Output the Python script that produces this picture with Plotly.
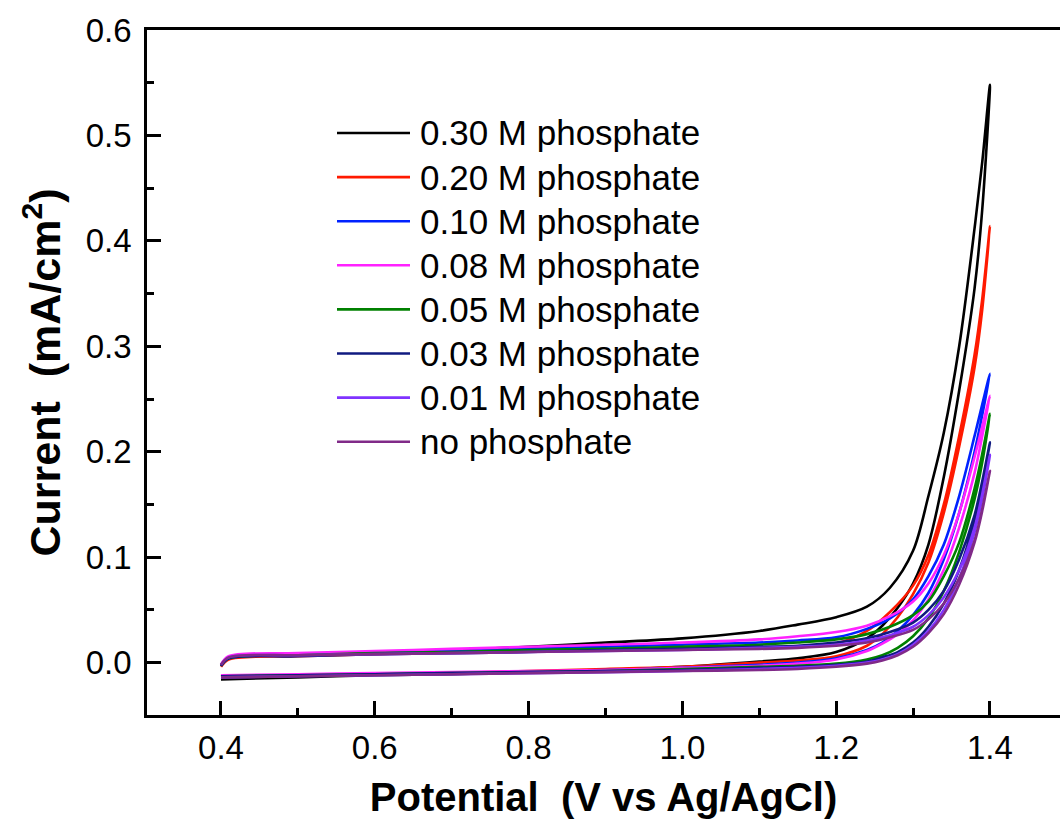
import plotly.graph_objects as go

# Potential grids (V vs Ag/AgCl)
forward_potential = [0.40, 0.41, 0.50, 0.60, 0.70, 0.80, 0.90, 1.00, 1.10, 1.15, 1.20, 1.24, 1.27, 1.30, 1.32, 1.34, 1.36, 1.38, 1.39, 1.40]
reverse_potential = [1.40, 1.39, 1.38, 1.36, 1.34, 1.32, 1.30, 1.28, 1.26, 1.24, 1.20, 1.15, 1.10, 1.00, 0.90, 0.80, 0.70, 0.60, 0.50, 0.40]

series_names = ["0.30 M phosphate", "0.20 M phosphate", "0.10 M phosphate", "0.08 M phosphate",
                "0.05 M phosphate", "0.03 M phosphate", "0.01 M phosphate", "no phosphate"]
series_colors = ["#000000", "#FF1A00", "#0022FF", "#FF22FF", "#008000", "#101A80", "#8033FF", "#802A88"]

# Current (mA/cm2), forward scan
fwd_030 = [-0.003, 0.005, 0.008, 0.010, 0.012, 0.015, 0.019, 0.023, 0.030, 0.036, 0.043, 0.053, 0.071, 0.106, 0.158, 0.218, 0.300, 0.412, 0.475, 0.548]
fwd_020 = [-0.004, 0.003, 0.006, 0.008, 0.010, 0.011, 0.012, 0.013, 0.014, 0.015, 0.018, 0.030, 0.048, 0.073, 0.102, 0.150, 0.215, 0.292, 0.345, 0.414]
fwd_010 = [-0.003, 0.004, 0.007, 0.009, 0.011, 0.013, 0.015, 0.017, 0.019, 0.021, 0.024, 0.032, 0.042, 0.060, 0.082, 0.112, 0.158, 0.215, 0.245, 0.274]
fwd_008 = [-0.002, 0.006, 0.009, 0.011, 0.013, 0.015, 0.017, 0.019, 0.022, 0.025, 0.029, 0.035, 0.044, 0.058, 0.075, 0.102, 0.142, 0.195, 0.224, 0.253]
fwd_005 = [-0.003, 0.004, 0.007, 0.009, 0.010, 0.012, 0.013, 0.015, 0.017, 0.019, 0.022, 0.027, 0.034, 0.045, 0.058, 0.082, 0.114, 0.165, 0.198, 0.236]
fwd_003 = [-0.003, 0.004, 0.006, 0.008, 0.009, 0.010, 0.012, 0.013, 0.015, 0.016, 0.019, 0.023, 0.029, 0.038, 0.050, 0.068, 0.098, 0.140, 0.172, 0.209]
fwd_001 = [-0.002, 0.005, 0.007, 0.008, 0.009, 0.010, 0.011, 0.012, 0.014, 0.015, 0.017, 0.021, 0.026, 0.034, 0.045, 0.062, 0.088, 0.128, 0.160, 0.197]
fwd_000 = [-0.002, 0.005, 0.007, 0.008, 0.009, 0.010, 0.011, 0.012, 0.013, 0.014, 0.016, 0.019, 0.024, 0.031, 0.041, 0.056, 0.080, 0.116, 0.146, 0.182]

# Current (mA/cm2), reverse scan
rev_030 = [0.548, 0.430, 0.355, 0.258, 0.176, 0.112, 0.075, 0.052, 0.035, 0.023, 0.010, 0.004, 0.001, -0.004, -0.007, -0.009, -0.011, -0.012, -0.014, -0.016]
rev_020 = [0.414, 0.335, 0.280, 0.205, 0.142, 0.095, 0.065, 0.043, 0.027, 0.016, 0.006, 0.002, 0.000, -0.004, -0.006, -0.008, -0.010, -0.011, -0.012, -0.013]
rev_010 = [0.274, 0.235, 0.200, 0.142, 0.098, 0.066, 0.045, 0.030, 0.019, 0.012, 0.004, 0.000, -0.002, -0.005, -0.007, -0.009, -0.010, -0.011, -0.012, -0.013]
rev_008 = [0.253, 0.215, 0.180, 0.128, 0.088, 0.060, 0.040, 0.027, 0.018, 0.011, 0.003, -0.001, -0.003, -0.005, -0.007, -0.008, -0.009, -0.010, -0.011, -0.012]
rev_005 = [0.236, 0.190, 0.155, 0.105, 0.068, 0.042, 0.025, 0.014, 0.007, 0.003, -0.001, -0.003, -0.004, -0.006, -0.008, -0.009, -0.010, -0.011, -0.012, -0.013]
rev_003 = [0.209, 0.168, 0.135, 0.088, 0.056, 0.034, 0.019, 0.010, 0.005, 0.001, -0.002, -0.004, -0.005, -0.007, -0.008, -0.009, -0.010, -0.011, -0.012, -0.013]
rev_001 = [0.197, 0.156, 0.124, 0.080, 0.050, 0.030, 0.017, 0.008, 0.003, 0.000, -0.003, -0.005, -0.006, -0.008, -0.009, -0.010, -0.011, -0.012, -0.013, -0.014]
rev_000 = [0.182, 0.144, 0.114, 0.074, 0.046, 0.028, 0.015, 0.007, 0.002, -0.001, -0.004, -0.006, -0.007, -0.008, -0.009, -0.010, -0.011, -0.012, -0.013, -0.014]

forward_currents = [fwd_030, fwd_020, fwd_010, fwd_008, fwd_005, fwd_003, fwd_001, fwd_000]
reverse_currents = [rev_030, rev_020, rev_010, rev_008, rev_005, rev_003, rev_001, rev_000]

x_tick_vals = [0.4, 0.6, 0.8, 1.0, 1.2, 1.4]
y_tick_vals = [0.0, 0.1, 0.2, 0.3, 0.4, 0.5, 0.6]

FONT = "Liberation Sans, Arial, sans-serif"

fig = go.Figure()
for name, color, fwd, rev in zip(series_names, series_colors, forward_currents, reverse_currents):
    fig.add_trace(go.Scatter(
        x=forward_potential + reverse_potential[1:],
        y=fwd + rev[1:],
        mode="lines", name=name,
        line=dict(color=color, width=2.6, shape="spline", smoothing=0.9),
        showlegend=False,
    ))

# Custom legend (long line samples like the original)
L, R_, T, B = 147, 1060, 30, 715
W, H = R_ - L, B - T
def px(xp): return (xp - L) / W
def py(yp): return (B - yp) / H
row0, step = 133, 44.1
for i, (name, color) in enumerate(zip(series_names, series_colors)):
    yy = row0 + i * step
    fig.add_shape(type="line", xref="paper", yref="paper",
                  x0=px(337), x1=px(410), y0=py(yy), y1=py(yy),
                  line=dict(color=color, width=2.6))
    fig.add_annotation(xref="paper", yref="paper", x=px(418), y=py(yy),
                       text=name, showarrow=False, xanchor="left", yanchor="middle",
                       font=dict(family=FONT, size=35, color="black"))

fig.update_layout(
    width=1060, height=821,
    margin=dict(l=L, r=0, t=T, b=821 - B),
    paper_bgcolor="white", plot_bgcolor="white",
    font=dict(family=FONT, color="black"),
)
fig.update_xaxes(
    range=[0.3038, 1.4911], tickvals=x_tick_vals, tickformat=".1f",
    showline=True, linecolor="black", linewidth=2.5, mirror=True,
    ticks="inside", ticklen=14, tickwidth=2.5, tickcolor="black",
    minor=dict(dtick=0.1, tick0=0.3, ticks="inside", ticklen=7, tickwidth=2.5, tickcolor="black"),
    showgrid=False, zeroline=False,
    tickfont=dict(family=FONT, size=33, color="black"), ticklabelstandoff=2,
    title=dict(text="<b>Potential\u00a0\u00a0(V vs Ag/AgCl)</b>", font=dict(family=FONT, size=40, color="black"), standoff=18),
)
fig.update_yaxes(
    range=[-0.0497, 0.6], tickvals=y_tick_vals, tickformat=".1f",
    showline=True, linecolor="black", linewidth=2.5, mirror=False,
    ticks="inside", ticklen=14, tickwidth=2.5, tickcolor="black",
    minor=dict(dtick=0.05, tick0=0.0, ticks="inside", ticklen=7, tickwidth=2.5, tickcolor="black"),
    showgrid=False, zeroline=False,
    tickfont=dict(family=FONT, size=33, color="black"), ticklabelstandoff=6,
    title=dict(text="<b>Current\u00a0\u00a0(mA/cm<sup>2</sup>)</b>", font=dict(family=FONT, size=43, color="black"), standoff=12),
)

fig.write_html("out.html")
